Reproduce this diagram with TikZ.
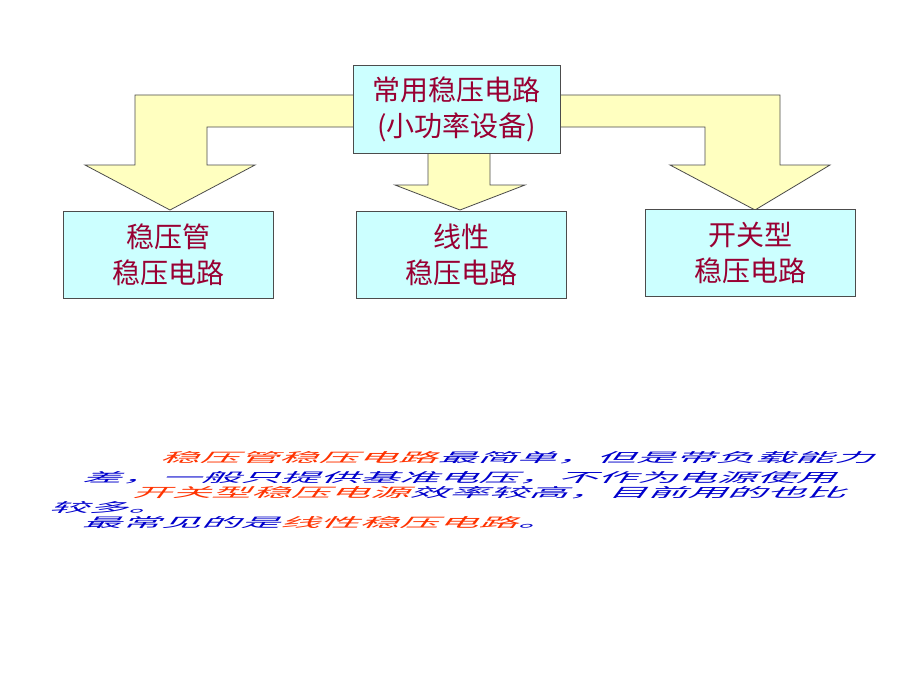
\documentclass[tikz,border=0pt]{standalone}
\usepackage{fontspec}
\newfontfamily\cjk{Noto Sans CJK SC}
\definecolor{boxfill}{HTML}{CCFFFF}
\definecolor{arrfill}{HTML}{FFFFC0}
\definecolor{txtred}{HTML}{990033}
\definecolor{hl}{HTML}{FF3300}
\definecolor{bl}{HTML}{0000CC}
\begin{document}
\begin{tikzpicture}[x=1pt,y=-1pt,
  box/.style={draw=black!70,fill=boxfill,minimum width=210pt,minimum height=87pt,align=center,font=\cjk\fontsize{28}{36}\selectfont,text=txtred,inner sep=0pt},
  fat/.style={draw=black!70,fill=arrfill,line width=0.8pt},
  note/.style={anchor=west,font=\cjk\fontsize{13}{13}\selectfont,xscale=3.05,xslant=0.25,transform shape,inner sep=0pt}]
\useasboundingbox (0,0) rectangle (920,690);
\fill[white] (0,0) rectangle (920,690);
\draw[fat] (135,95)--(780,95)--(780,165)--(830,165)--(755,210)--(670,165)--(705,165)--(705,127)--(207,127)--(207,165)--(255,165)--(170,210)--(85,165)--(135,165)--cycle;
\draw[fat] (428,150)--(490,150)--(490,185)--(525,185)--(460,210)--(395,185)--(428,185)--cycle;
\node[box,minimum width=207pt,minimum height=88pt] (top) at (456.5,109) {常用稳压电路\\(小功率设备)};
\node[box] (l) at (168,254.5) {稳压管\\稳压电路};
\node[box] (m) at (461,254.5) {线性\\稳压电路};
\node[box] (r) at (750,252.5) {开关型\\稳压电路};
\node[note] (t1) at (163,458) {\textcolor{hl}{稳压管稳压电路}\textcolor{bl}{最简单，但是带负载能力}};
\node[note] (t2) at (85,478) {\textcolor{bl}{差，一般只提供基准电压，不作为电源使用}};
\node[note] (t3) at (135,493) {\textcolor{hl}{开关型稳压电源}\textcolor{bl}{效率较高，目前用的也比}};
\node[note] (t4) at (52,508) {\textcolor{bl}{较多。}};
\node[note] (t5) at (85,523) {\textcolor{bl}{最常见的是}\textcolor{hl}{线性稳压电路}\textcolor{bl}{。}};
\end{tikzpicture}
\end{document}
